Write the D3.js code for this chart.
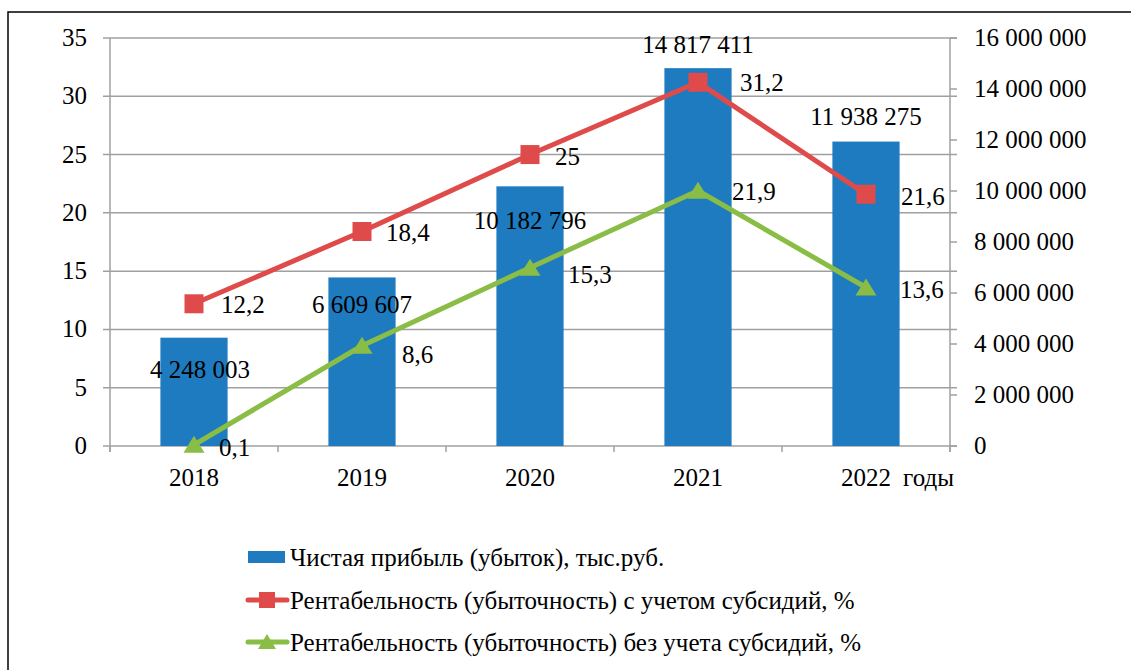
<!DOCTYPE html>
<html><head><meta charset="utf-8">
<script src="https://cdn.jsdelivr.net/npm/d3@7"></script>
<style>svg text{font-family:"Liberation Serif","Times New Roman",Tinos,serif !important;}</style>
</head><body style="margin:0"><svg id="c" width="1131" height="670" font-family="Liberation Serif"></svg>
<script>
const years = ["2018","2019","2020","2021","2022"];
const profit = [4248003, 6609607, 10182796, 14817411, 11938275];
const profitLabels = ["4 248 003","6 609 607","10 182 796","14 817 411","11 938 275"];
const rentWith = [12.2, 18.4, 25, 31.2, 21.6];
const rentWithout = [0.1, 8.6, 15.3, 21.9, 13.6];
const leftTicks = [0,5,10,15,20,25,30,35];
const rightTicks = [0,2000000,4000000,6000000,8000000,10000000,12000000,14000000,16000000];
const legendNames = ["Чистая прибыль (убыток), тыс.руб.","Рентабельность (убыточность) с учетом субсидий, %","Рентабельность (убыточность) без учета субсидий, %"];
const xAxisTitle = "годы";

// label layout tweaks (not data)
const barLabelDx = [6,0,0,0,0], barLabelDy = [32,28,35,-23,-25];
const redDx = [27,24,25,42,35], redDy = [1,1,2,1,3];
const greenDx = [25,40,38,34,34], greenDy = [3,9,7,1,3];

const BLUE="#1f7bbf", RED="#df4b4a", GREEN="#8abd45", GRID="#a0a0a0";
const FONT = "Liberation Serif";
const FS = 25;
const svg = d3.select("#c");
const L=110, R=950, T=38, B=446;

function txt(sel){
  return sel.attr("font-family",FONT)
    .style("font-family","'Liberation Serif', 'Times New Roman', Tinos, serif","important")
    .attr("font-size",FS).attr("fill","#000");
}

svg.append("rect").attr("x",8).attr("y",12).attr("width",1140).attr("height",700)
  .attr("fill","none").attr("stroke","#000").attr("stroke-width",1.5);

const x = d3.scaleBand().domain(years).range([L,R]).paddingInner(0.6).paddingOuter(0.3);
const xb = d3.scaleBand().domain(years).range([L,R]);
const yL = d3.scaleLinear().domain([0,35]).range([B,T]);
const yR = d3.scaleLinear().domain([0,16000000]).range([B,T]);
const fmt = v => d3.format(",")(v).replace(/,/g," ");

svg.append("g").selectAll("line").data(leftTicks).join("line")
  .attr("x1",L-7).attr("x2",R+7).attr("y1",d=>yL(d)).attr("y2",d=>yL(d))
  .attr("stroke",GRID).attr("stroke-width",1.5);

svg.append("line").attr("x1",L).attr("x2",L).attr("y1",T).attr("y2",B+6).attr("stroke",GRID).attr("stroke-width",1.5);
svg.append("line").attr("x1",R).attr("x2",R).attr("y1",T).attr("y2",B+6).attr("stroke",GRID).attr("stroke-width",1.5);
svg.append("g").selectAll("line").data(rightTicks).join("line")
  .attr("x1",R).attr("x2",R+7).attr("y1",d=>yR(d)).attr("y2",d=>yR(d)).attr("stroke",GRID).attr("stroke-width",1.5);
const bounds = years.map(y=>xb(y)).concat([R]);
svg.append("g").selectAll("line").data(bounds).join("line")
  .attr("x1",d=>d).attr("x2",d=>d).attr("y1",B).attr("y2",B+6).attr("stroke",GRID).attr("stroke-width",1.5);

txt(svg.append("g").selectAll("text").data(leftTicks).join("text")
  .attr("x",L-23).attr("y",d=>yL(d)+8).attr("text-anchor","end")
  .text(d=>d));
txt(svg.append("g").selectAll("text").data(rightTicks).join("text")
  .attr("x",R+24).attr("y",d=>yR(d)+8).attr("text-anchor","start")
  .text(d=>fmt(d)));
txt(svg.append("g").selectAll("text").data(years).join("text")
  .attr("x",d=>xb(d)+xb.bandwidth()/2).attr("y",486).attr("text-anchor","middle")
  .text(d=>d));
txt(svg.append("text").attr("x",903).attr("y",486).text(xAxisTitle));

svg.append("g").selectAll("rect").data(profit).join("rect")
  .attr("x",(d,i)=>x(years[i])).attr("width",x.bandwidth())
  .attr("y",d=>yR(d)).attr("height",d=>B-yR(d)).attr("fill",BLUE);

const cx = i => xb(years[i])+xb.bandwidth()/2;
const line = d3.line().x((d,i)=>cx(i)).y(d=>yL(d));
svg.append("path").datum(rentWith).attr("d",line).attr("fill","none").attr("stroke",RED).attr("stroke-width",5).attr("stroke-linejoin","round");
svg.append("path").datum(rentWithout).attr("d",line).attr("fill","none").attr("stroke",GREEN).attr("stroke-width",5).attr("stroke-linejoin","round");

svg.append("g").selectAll("rect").data(rentWith).join("rect")
  .attr("x",(d,i)=>cx(i)-9.5).attr("y",d=>yL(d)-9.5).attr("width",19).attr("height",19).attr("fill",RED);
const tri = "M0,-9L10.5,8L-10.5,8Z";
svg.append("g").selectAll("path").data(rentWithout).join("path")
  .attr("d",tri).attr("transform",(d,i)=>`translate(${cx(i)},${yL(d)})`).attr("fill",GREEN);

txt(svg.append("g").selectAll("text").data(profit).join("text")
  .attr("x",(d,i)=>cx(i)+barLabelDx[i]).attr("y",(d,i)=>yR(d)+barLabelDy[i]+8)
  .attr("text-anchor","middle").text((d,i)=>profitLabels[i]));
const dec = v => String(v).replace(".",",");
txt(svg.append("g").selectAll("text").data(rentWith).join("text")
  .attr("x",(d,i)=>cx(i)+redDx[i]).attr("y",(d,i)=>yL(d)+redDy[i]+8)
  .text(dec));
txt(svg.append("g").selectAll("text").data(rentWithout).join("text")
  .attr("x",(d,i)=>cx(i)+greenDx[i]).attr("y",(d,i)=>yL(d)+greenDy[i]+8)
  .text(dec));

const lg = svg.append("g");
const rows = [557,600,642];
lg.append("rect").attr("x",248).attr("y",rows[0]-6).attr("width",37).attr("height",12).attr("fill",BLUE);
lg.append("line").attr("x1",248).attr("x2",287).attr("y1",rows[1]).attr("y2",rows[1]).attr("stroke",RED).attr("stroke-width",5).attr("stroke-linecap","round");
lg.append("rect").attr("x",259).attr("y",rows[1]-8).attr("width",16).attr("height",16).attr("fill",RED);
lg.append("line").attr("x1",248).attr("x2",287).attr("y1",rows[2]).attr("y2",rows[2]).attr("stroke",GREEN).attr("stroke-width",5).attr("stroke-linecap","round");
lg.append("path").attr("d","M0,-8L9,7L-9,7Z").attr("transform",`translate(267,${rows[2]})`).attr("fill",GREEN);
txt(lg.selectAll("text").data(legendNames).join("text")
  .attr("x",290).attr("y",(d,i)=>rows[i]+9).text(d=>d));
</script></body></html>
